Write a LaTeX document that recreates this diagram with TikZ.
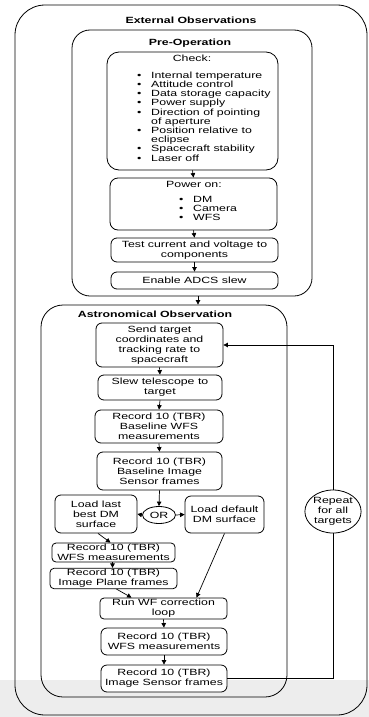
\documentclass[tikz,border=0pt]{standalone}
\usepackage{fontspec}
\setmainfont[FakeStretch=1.37]{Liberation Sans}
\usetikzlibrary{arrows.meta,shapes.geometric}
\newcommand\bul{\makebox[14pt][l]{\textbullet}}
\begin{document}
\begin{tikzpicture}[x=1pt,y=-1pt,
  font=\fontsize{9}{10}\selectfont,
  frame/.style={draw,line width=0.8pt,inner sep=0pt},
  box/.style={draw,rounded corners=6pt,line width=0.8pt,align=center,inner sep=1pt,fill=white},
  ttl/.style={inner sep=0pt,font=\fontsize{9}{10}\selectfont\bfseries},
  txt/.style={inner sep=0pt,align=center},
  arr/.style={-{Triangle[length=4.5pt,width=4.5pt]},line width=0.7pt},
  ln/.style={line width=0.7pt}]
\useasboundingbox (0,0) rectangle (369,717);
\fill[black!7] (0,680) rectangle (369,717);
% frames
\node[frame,rounded corners=30pt,minimum width=352,minimum height=710] (ext) at (191,360) {};
\node[ttl] (extt) at (191,20) {External Observations};
\node[frame,rounded corners=18pt,minimum width=240,minimum height=266] (preop) at (192,163) {};
\node[ttl] (pret) at (190,43) {Pre-Operation};
\node[frame,rounded corners=22pt,minimum width=246,minimum height=392] (astro) at (164,501) {};
\node[ttl] (astt) at (155,314) {Astronomical Observation};
% pre-operation
\node[frame,rounded corners=12pt,minimum width=171,minimum height=118] (check) at (192.5,111) {};
\node[txt] (checkt) at (192,58) {Check:};
\node[txt,align=left,anchor=north west,font=\fontsize{9}{9.2}\selectfont] (checkl) at (137,71.5)
 {\bul Internal temperature\\\bul Attitude control\\\bul Data storage capacity\\\bul Power supply\\\bul Direction of pointing\\\hspace*{14pt}of aperture\\\bul Position relative to\\\hspace*{14pt}eclipse\\\bul Spacecraft stability\\\bul Laser off};
\node[frame,rounded corners=8pt,minimum width=167,minimum height=52] (power) at (193.5,204) {};
\node[txt] (powert) at (194,184) {Power on:};
\node[txt,align=left,anchor=north west,font=\fontsize{9}{9}\selectfont] (powerl) at (179,196.5)
 {\bul DM\\\bul Camera\\\bul WFS};
\node[box,minimum width=167,minimum height=24] (test) at (194.5,250) {Test current and voltage to\\components};
\node[box,minimum width=167,minimum height=17] (adcs) at (194.5,280.5) {Enable ADCS slew};
\draw[arr] (check.south) -- (power.north);
\draw[arr] (power.south) -- (test.north);
\draw[arr] (test.south) -- (adcs.north);
\draw[arr] ([xshift=6]preop.south) -- ([xshift=34]astro.north);
% astronomical observation
\node[box,minimum width=127,minimum height=44] (send) at (159.5,345) {Send target\\coordinates and\\tracking rate to\\spacecraft};
\node[box,minimum width=124,minimum height=25] (slew) at (160,387.5) {Slew telescope to\\target};
\node[box,minimum width=128,minimum height=33] (bwfs) at (159,426.5) {Record 10 (TBR)\\Baseline WFS\\measurements};
\node[box,minimum width=125,minimum height=38] (bimg) at (159.5,471) {Record 10 (TBR)\\Baseline Image\\Sensor frames};
\node[draw,ellipse,line width=0.8pt,inner sep=0pt,minimum width=33,minimum height=17,fill=white] (or) at (159,515) {OR};
\node[box,minimum width=82,minimum height=38] (last) at (96,514) {Load last\\best DM\\surface};
\node[box,minimum width=79,minimum height=37] (def) at (224.5,514.5) {Load default\\DM surface};
\node[box,rounded corners=4pt,minimum width=123,minimum height=19] (rwfs) at (113.5,552.5) {Record 10 (TBR)\\WFS measurements};
\node[box,rounded corners=4pt,minimum width=127,minimum height=19] (rip) at (113.5,578.5) {Record 10 (TBR)\\Image Plane frames};
\node[box,rounded corners=4pt,minimum width=127,minimum height=21] (run) at (163.5,608.5) {Run WF correction\\loop};
\node[box,minimum width=126,minimum height=27] (rwfs2) at (164,641.5) {Record 10 (TBR)\\WFS measurements};
\node[box,minimum width=126,minimum height=27] (ris) at (164,678.5) {Record 10 (TBR)\\Image Sensor frames};
\node[draw,ellipse,line width=0.8pt,inner sep=0pt,minimum width=52,minimum height=43,fill=white,align=center] (rep) at (333,511.5) {Repeat\\for all\\targets};
\coordinate (fb) at (333,678.5);
\draw[arr] (send.south) -- (slew.north);
\draw[arr] (slew.south) -- (bwfs.north);
\draw[arr] (bwfs.south) -- (bimg.north);
\draw[arr] (bimg.south) -- (or.north);
\draw[arr] (or.west) -- (last.east);
\draw[arr] (or.east) -- (def.west);
\draw[arr] ([xshift=2]last.south) -- ([xshift=-3]rwfs.north);
\draw[arr] ([xshift=-1]rwfs.south) -- ([xshift=-1]rip.north);
\draw[arr] ([xshift=3]rip.south) -- ([xshift=-32]run.north);
\draw[arr] (def.south) -- ([xshift=33]run.north);
\draw[arr] (run.south) -- (rwfs2.north);
\draw[arr] (rwfs2.south) -- (ris.north);
\draw[ln] (ris.east) -- (fb) -- (rep.south);
\draw[arr] (rep.north) |- (send.east);
\end{tikzpicture}
\end{document}
